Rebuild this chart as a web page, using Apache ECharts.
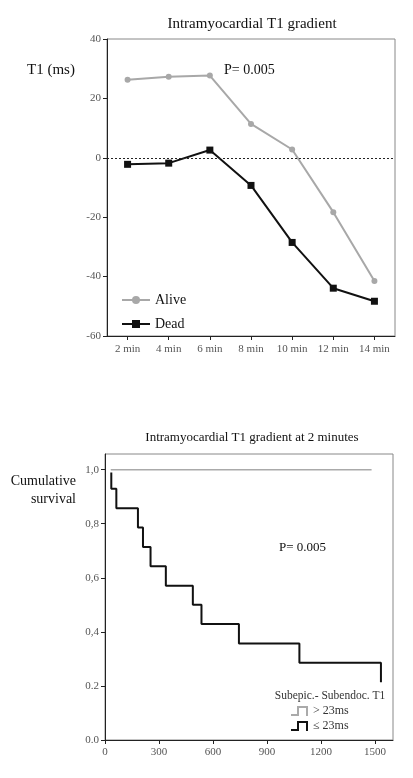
<!DOCTYPE html>
<html>
<head>
<meta charset="utf-8">
<script src="https://cdn.jsdelivr.net/npm/echarts@6/dist/echarts.min.js"></script>
<style>
  html, body { margin: 0; padding: 0; background: #fff; }
  #main { width: 413px; height: 778px; }
</style>
</head>
<body>
<div id="main"></div>
<script>
// top chart: T1 gradient per time point
var minutes = ['2 min', '4 min', '6 min', '8 min', '10 min', '12 min', '14 min'];
var alive = [26.3, 27.3, 27.7, 11.4, 2.8, -18.3, -41.5];
var dead = [-2.2, -1.8, 2.6, -9.3, -28.5, -43.9, -48.3];

// bottom chart: Kaplan-Meier curves
var highTimes = [32, 1481];
var highSurv = [1, 1];
var lowTimes = [35, 35, 63, 183, 211, 253, 338, 488, 536, 744, 1080, 1533];
var lowSurv = [0.99, 0.929, 0.857, 0.786, 0.714, 0.643, 0.571, 0.5, 0.429, 0.357, 0.286, 0.214];
var dayTicks = [0, 300, 600, 900, 1200, 1500];
var survTicks = [0, 0.2, 0.4, 0.6, 0.8, 1.0];
var survLabels = ['0.0', '0.2', '0,4', '0,6', '0,8', '1,0'];

var serif = 'Liberation Serif';
// step shaped legend icon (filled outline)
var stepIcon = 'path://M0,8 L6,8 L6,0 L17,0 L17,10 L15,10 L15,2 L8,2 L8,10 L0,10 Z';

function pairs(xs, ys) {
    var ret = [];
    for (var i = 0; i < xs.length; i++) {
        ret.push([xs[i], ys[i]]);
    }
    return ret;
}

var chart = echarts.init(document.getElementById('main'));

var axisLine = { show: true, onZero: false, lineStyle: { color: '#222', width: 1 } };
var axisTick = { show: true, inside: false, length: 4, lineStyle: { color: '#222' } };

var option = {
    backgroundColor: '#fff',
    animation: false,
    grid: [
        { left: 107, top: 39, width: 288, height: 297, show: true, borderColor: '#888', borderWidth: 1 },
        { left: 105, top: 454, width: 288, height: 286, show: true, borderColor: '#888', borderWidth: 1 }
    ],
    xAxis: [
        {
            gridIndex: 0,
            type: 'category',
            boundaryGap: true,
            data: minutes,
            axisLine: axisLine,
            axisTick: { show: true, alignWithLabel: true, length: 4, lineStyle: { color: '#222' } },
            axisLabel: { fontFamily: serif, fontSize: 11, color: '#555', margin: 8 },
            splitLine: { show: false }
        },
        {
            gridIndex: 1,
            type: 'value',
            min: 0,
            max: 1600,
            axisLine: axisLine,
            axisTick: { show: true, length: 4, lineStyle: { color: '#222' }, customValues: dayTicks },
            axisLabel: {
                fontFamily: serif, fontSize: 11, color: '#555', margin: 7,
                customValues: dayTicks,
                formatter: function (v) { return String(v); }
            },
            splitLine: { show: false }
        }
    ],
    yAxis: [
        {
            gridIndex: 0,
            type: 'value',
            min: -60,
            max: 40,
            interval: 20,
            axisLine: axisLine,
            axisTick: axisTick,
            axisLabel: { fontFamily: serif, fontSize: 11, color: '#555', margin: 6 },
            splitLine: { show: false }
        },
        {
            gridIndex: 1,
            type: 'value',
            min: 0,
            max: 1.058,
            axisLine: axisLine,
            axisTick: { show: true, length: 4, lineStyle: { color: '#222' }, customValues: survTicks },
            axisLabel: {
                fontFamily: serif, fontSize: 11, color: '#555', margin: 6,
                customValues: survTicks,
                formatter: function (v) {
                    for (var i = 0; i < survTicks.length; i++) {
                        if (Math.abs(survTicks[i] - v) < 1e-6) return survLabels[i];
                    }
                    return '';
                }
            },
            splitLine: { show: false }
        }
    ],
    legend: [
        {
            orient: 'vertical',
            left: 116,
            top: 288,
            itemWidth: 28,
            itemHeight: 10,
            itemGap: 10,
            textStyle: { fontFamily: serif, fontSize: 14, color: '#111' },
            data: ['Alive', 'Dead']
        },
        {
            orient: 'vertical',
            left: 291,
            top: 705,
            padding: 0,
            itemWidth: 17,
            itemHeight: 10,
            itemGap: 3,
            textStyle: { fontFamily: serif, fontSize: 12, color: '#333', lineHeight: 10 },
            data: [
                { name: '> 23ms', icon: stepIcon, itemStyle: { color: '#aaa' } },
                { name: '\u2264 23ms', icon: stepIcon, itemStyle: { color: '#111' } }
            ]
        }
    ],
    graphic: [
        { type: 'text', x: 252, y: 24, style: { text: 'Intramyocardial T1 gradient', font: '15px "Liberation Serif"', fill: '#111', align: 'center', verticalAlign: 'middle' } },
        { type: 'text', x: 27, y: 70, style: { text: 'T1 (ms)', font: '15px "Liberation Serif"', fill: '#111', verticalAlign: 'middle' } },
        { type: 'text', x: 224, y: 70, style: { text: 'P= 0.005', font: '14px "Liberation Serif"', fill: '#111', verticalAlign: 'middle' } },
        { type: 'text', x: 252, y: 438, style: { text: 'Intramyocardial T1 gradient at 2 minutes', font: '13px "Liberation Serif"', fill: '#111', align: 'center', verticalAlign: 'middle' } },
        { type: 'text', x: 76, y: 481, style: { text: 'Cumulative', font: '14px "Liberation Serif"', fill: '#111', align: 'right', verticalAlign: 'middle' } },
        { type: 'text', x: 76, y: 499, style: { text: 'survival', font: '14px "Liberation Serif"', fill: '#111', align: 'right', verticalAlign: 'middle' } },
        { type: 'text', x: 279, y: 548, style: { text: 'P= 0.005', font: '13px "Liberation Serif"', fill: '#111', verticalAlign: 'middle' } },
        { type: 'text', x: 330, y: 696, style: { text: 'Subepic.- Subendoc. T1', font: '11.5px "Liberation Serif"', fill: '#333', align: 'center', verticalAlign: 'middle' } }
    ],
    series: [
        {
            name: 'Alive',
            type: 'line',
            xAxisIndex: 0,
            yAxisIndex: 0,
            data: alive,
            symbol: 'circle',
            symbolSize: 6,
            itemStyle: { color: '#a8a8a8' },
            lineStyle: { color: '#a8a8a8', width: 2 }
        },
        {
            name: 'Dead',
            type: 'line',
            xAxisIndex: 0,
            yAxisIndex: 0,
            data: dead,
            symbol: 'rect',
            symbolSize: 7,
            itemStyle: { color: '#111' },
            lineStyle: { color: '#111', width: 2 },
            markLine: {
                silent: true,
                symbol: 'none',
                label: { show: false },
                lineStyle: { color: '#222', type: [2, 2], width: 1 },
                data: [{ yAxis: 0 }]
            }
        },
        {
            name: '> 23ms',
            type: 'line',
            xAxisIndex: 1,
            yAxisIndex: 1,
            data: pairs(highTimes, highSurv),
            showSymbol: false,
            symbol: 'none',
            itemStyle: { color: '#aaa' },
            lineStyle: { color: '#aaa', width: 1.5 }
        },
        {
            name: '\u2264 23ms',
            type: 'line',
            xAxisIndex: 1,
            yAxisIndex: 1,
            data: pairs(lowTimes, lowSurv),
            step: 'end',
            showSymbol: false,
            symbol: 'none',
            itemStyle: { color: '#111' },
            lineStyle: { color: '#111', width: 2 }
        }
    ]
};

chart.setOption(option);
</script>
</body>
</html>
